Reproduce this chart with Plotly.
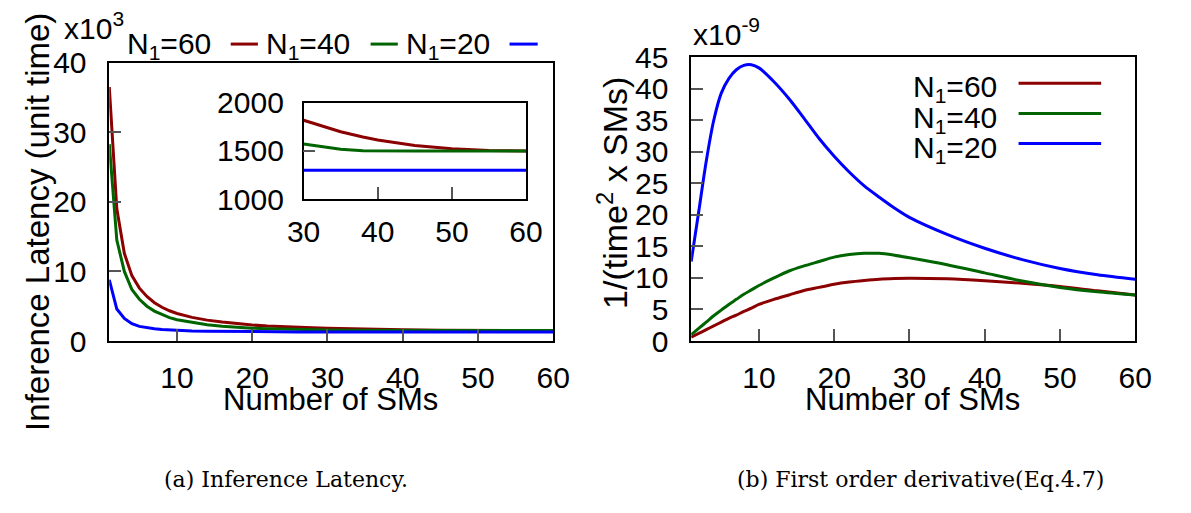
import plotly.graph_objects as go

W, H = 1191, 513

# ---- data -------------------------------------------------------------
# (a) inference latency (unit time) vs number of SMs
sms_lat = [1, 2, 3, 4, 5, 6, 7, 8, 9, 10, 12, 14, 16, 18, 20, 22, 24, 26, 28,
           30, 32, 35, 38, 40, 45, 50, 55, 60]
lat_n60 = [36500, 19000, 12600, 9400, 7600, 6400, 5500, 4850, 4350, 3950,
           3400, 3000, 2720, 2480, 2300, 2150, 2040, 1960, 1890,
           1820, 1770, 1700, 1645, 1615, 1556, 1524, 1506, 1500]
lat_n40 = [28300, 14500, 10000, 7400, 6000, 5000, 4300, 3800, 3350, 3050,
           2650, 2350, 2120, 1960, 1840, 1750, 1680, 1630, 1595,
           1573, 1550, 1518, 1503, 1500, 1500, 1500, 1500, 1500]
lat_n20 = [8800, 4600, 3250, 2500, 2100, 1900, 1760, 1660, 1590, 1530,
           1450, 1400, 1370, 1345, 1330, 1320, 1310, 1305, 1300,
           1300, 1300, 1300, 1300, 1300, 1300, 1300, 1300, 1300]

# (b) first order derivative, in units of 1e-9
sms_der = [1, 2, 3, 4, 5, 6, 7, 8, 9, 10, 12, 14, 16, 18, 20, 22, 24, 26, 28,
           30, 35, 40, 45, 50, 55, 60]
der_n60 = [0.6, 1.2, 1.8, 2.4, 3.0, 3.6, 4.1, 4.7, 5.2, 5.8, 6.6, 7.3, 8.0,
           8.5, 9.0, 9.35, 9.6, 9.8, 9.9, 9.95, 9.85, 9.55, 9.15, 8.65,
           7.95, 7.3]
der_n40 = [1.0, 2.0, 3.0, 4.0, 4.9, 5.8, 6.6, 7.4, 8.1, 8.8, 10.0, 11.1,
           11.9, 12.6, 13.3, 13.7, 13.9, 13.9, 13.6, 13.2, 12.1, 10.8, 9.5,
           8.5, 7.8, 7.3]
der_n20 = [12.6, 20.5, 28.5, 35.0, 39.3, 41.6, 43.0, 43.7, 43.8, 43.3, 41.1,
           38.4, 35.3, 32.1, 29.3, 26.8, 24.6, 22.8, 21.1, 19.6, 16.9, 14.7,
           12.9, 11.5, 10.5, 9.8]

series_names = ["N<sub>1</sub>=60", "N<sub>1</sub>=40", "N<sub>1</sub>=20"]
colors = ["#8b0000", "#006400", "#0000ff"]
inset_from = 30

FONT = "Liberation Sans"
FS = 30


def px(x):
    """pixel column -> paper fraction"""
    return x / W


def py(y):
    """pixel row (from top) -> paper fraction"""
    return 1 - y / H


fig = go.Figure()

lat_sets = [lat_n60, lat_n40, lat_n20]
der_sets = [der_n60, der_n40, der_n20]

# (a) main latency curves, shown in thousands
for name, col, lat in zip(series_names, colors, lat_sets):
    fig.add_trace(go.Scatter(x=sms_lat, y=[v / 1000 for v in lat], mode="lines",
                             line=dict(color=col, width=3), name=name,
                             xaxis="x", yaxis="y", showlegend=False))

# (a) inset: the tail of the same curves
for name, col, lat in zip(series_names, colors, lat_sets):
    xs = [s for s in sms_lat if s >= inset_from]
    ys = [v for s, v in zip(sms_lat, lat) if s >= inset_from]
    fig.add_trace(go.Scatter(x=xs, y=ys, mode="lines",
                             line=dict(color=col, width=3), name=name,
                             xaxis="x3", yaxis="y3", showlegend=False))

# (b) derivative curves
for name, col, der in zip(series_names, colors, der_sets):
    fig.add_trace(go.Scatter(x=sms_der, y=der, mode="lines",
                             line=dict(color=col, width=3, shape="spline",
                                       smoothing=0.8),
                             name=name, xaxis="x2", yaxis="y2",
                             showlegend=False))

axis_common = dict(showline=True, mirror=True, linecolor="black", linewidth=1.5,
                   ticks="inside", ticklen=12, tickwidth=1.5, tickcolor="#555",
                   showgrid=False, zeroline=False,
                   tickfont=dict(family=FONT, size=FS, color="black"))

fig.update_layout(
    width=W, height=H, margin=dict(l=0, r=0, t=0, b=0),
    paper_bgcolor="white", plot_bgcolor="white",
    xaxis=dict(domain=[px(95), px(552)], range=[1, 60],
               tickvals=[10, 20, 30, 40, 50, 60], anchor="y",
               ticklabelstandoff=9, **axis_common),
    yaxis=dict(domain=[py(347), py(49)], range=[0, 40],
               tickvals=[0, 10, 20, 30, 40], anchor="x",
               ticklabelstandoff=15, **axis_common),
    xaxis2=dict(domain=[px(694), px(1151)], range=[1, 60],
                tickvals=[10, 20, 30, 40, 50, 60], anchor="y2",
                ticklabelstandoff=9, **axis_common),
    yaxis2=dict(domain=[py(347), py(43)], range=[0, 45],
                tickvals=list(range(0, 50, 5)), anchor="x2",
                ticklabelstandoff=15, **axis_common),
    xaxis3=dict(domain=[px(295), px(524)], range=[30, 60],
                tickvals=[30, 40, 50, 60], anchor="y3",
                ticklabelstandoff=5, **axis_common),
    yaxis3=dict(domain=[py(195), py(92)], range=[1000, 2000],
                tickvals=[1000, 1500, 2000], anchor="x3",
                ticklabelstandoff=12, **axis_common),
)

ann = []


def text(x, y, s, size=FS, xanchor="center", yanchor="middle", angle=0,
         family=FONT):
    ann.append(dict(x=px(x), y=py(y), xref="paper", yref="paper", text=s,
                    showarrow=False, xanchor=xanchor, yanchor=yanchor,
                    textangle=angle,
                    font=dict(family=family, size=size, color="black")))


# axis titles and multipliers
text(323, 410, "Number of SMs", size=31)
text(922, 410, "Number of SMs", size=31)
text(21, 219, "Inference Latency (unit time)", size=33, angle=-90)
text(613, 189, "1/(time<sup>2</sup> x SMs)", size=34, angle=-90)
text(46, 10, "x10<sup>3</sup>", xanchor="left")
text(694, 16, "x10<sup>-9</sup>", xanchor="left")

# sub-figure captions
text(277, 495, "(a) Inference Latency.", size=22, family="DejaVu Serif")
text(930, 495, "(b) First order derivative(Eq.4.7)", size=22,
     family="DejaVu Serif")

shapes = []

# key for (a): one row above the plot, label then line sample
left_key = [(202, 220, 248), (345, 364, 392), (489, 507, 536)]
for name, col, (tx, l0, l1) in zip(series_names, colors, left_key):
    text(tx, 31, name, xanchor="right")
    shapes.append(dict(type="line", xref="paper", yref="paper",
                       x0=px(l0), x1=px(l1), y0=py(29), y1=py(29),
                       line=dict(color=col, width=3)))

# key for (b): stacked inside the plot
for i, (name, col) in enumerate(zip(series_names, colors)):
    yy = 71 + i * 32.3
    text(1011, yy + 6, name, xanchor="right")
    shapes.append(dict(type="line", xref="paper", yref="paper",
                       x0=px(1031), x1=px(1116), y0=py(yy), y1=py(yy),
                       line=dict(color=col, width=3)))

fig.update_layout(annotations=ann, shapes=shapes)

fig.write_html("out.html")
